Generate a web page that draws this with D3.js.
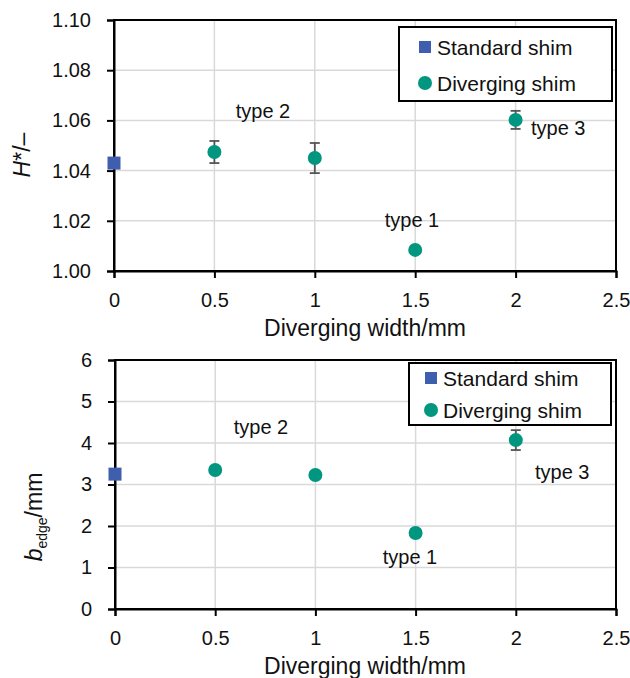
<!DOCTYPE html>
<html>
<head>
<meta charset="utf-8">
<script src="https://cdn.jsdelivr.net/npm/d3@7"></script>
<style>
  body { margin: 0; background: #fff; }
  text { font-family: "Liberation Sans", Arial, sans-serif; fill: #111; }
</style>
</head>
<body>
<div id="chart"></div>
<script>
var svgWidth = 630, svgHeight = 678;

// data
var widths = [0.5, 1, 1.5, 2];
var hStd = 1.043;
var hDiv = [1.0474, 1.045, 1.0084, 1.0602];
var hErr = [0.0044, 0.006, 0.001, 0.0036];
var bStd = 3.25;
var bDiv = [3.35, 3.23, 1.83, 4.07];
var bErr = [0.05, 0.05, 0.1, 0.24];
var xTicks = [0, 0.5, 1, 1.5, 2, 2.5];
var hTicks = [1.00, 1.02, 1.04, 1.06, 1.08, 1.10];
var bTicks = [0, 1, 2, 3, 4, 5, 6];
var typeLabels = ["type 2", "type 1", "type 3"];

var blue = "#3f5eae", teal = "#00967f", grid = "#d9d9d9";

var svg = d3.select("#chart").append("svg")
  .attr("width", svgWidth)
  .attr("height", svgHeight);

function panel(opt){
  var x = d3.scaleLinear().domain([0, 2.5]).range([opt.left, 616]);
  var y = d3.scaleLinear().domain(opt.ydom).range([opt.bottom, opt.top]);
  var g = svg.append("g");

  // grid
  g.append("g").selectAll("line").data(xTicks.slice(1, -1)).enter().append("line")
    .attr("x1", d => x(d)).attr("x2", d => x(d))
    .attr("y1", opt.top).attr("y2", opt.bottom)
    .attr("stroke", grid).attr("stroke-width", 1.5);
  g.append("g").selectAll("line").data(opt.yticks.slice(1, -1)).enter().append("line")
    .attr("y1", d => y(d)).attr("y2", d => y(d))
    .attr("x1", opt.left).attr("x2", 616)
    .attr("stroke", grid).attr("stroke-width", 1.5);

  // frame
  g.append("rect")
    .attr("x", opt.left).attr("y", opt.top)
    .attr("width", 616 - opt.left).attr("height", opt.bottom - opt.top)
    .attr("fill", "none").attr("stroke", "#000").attr("stroke-width", 2);

  var xAxis = g.append("g")
    .attr("transform", "translate(0," + opt.bottom + ")")
    .call(d3.axisBottom(x).tickValues(xTicks).tickFormat(d3.format("")).tickSize(7).tickPadding(15));
  var yAxis = g.append("g")
    .attr("transform", "translate(" + opt.left + ",0)")
    .call(d3.axisLeft(y).tickValues(opt.yticks).tickFormat(opt.yfmt).tickSize(7).tickPadding(16));
  [xAxis, yAxis].forEach(function(a){
    a.select(".domain").attr("stroke", "#000").attr("stroke-width", 2);
    a.selectAll(".tick line").attr("stroke", "#000").attr("stroke-width", 2);
    a.selectAll(".tick text").style("font-size", "20px").attr("fill", "#111");
  });

  // x title
  g.append("text")
    .attr("x", 365).attr("y", opt.bottom + 65)
    .attr("text-anchor", "middle")
    .style("font-size", "23px")
    .text("Diverging width/mm");

  // error bars
  var eb = g.append("g").selectAll("g").data(widths).enter().append("g")
    .attr("stroke", "#555").attr("stroke-width", 1.8);
  eb.append("line")
    .attr("x1", d => x(d)).attr("x2", d => x(d))
    .attr("y1", (d, i) => y(opt.div[i] - opt.err[i]))
    .attr("y2", (d, i) => y(opt.div[i] + opt.err[i]));
  eb.append("line")
    .attr("x1", d => x(d) - 5).attr("x2", d => x(d) + 5)
    .attr("y1", (d, i) => y(opt.div[i] - opt.err[i]))
    .attr("y2", (d, i) => y(opt.div[i] - opt.err[i]));
  eb.append("line")
    .attr("x1", d => x(d) - 5).attr("x2", d => x(d) + 5)
    .attr("y1", (d, i) => y(opt.div[i] + opt.err[i]))
    .attr("y2", (d, i) => y(opt.div[i] + opt.err[i]));

  // points
  g.append("rect")
    .attr("x", x(0) - 6.5).attr("y", y(opt.std) - 6.5)
    .attr("width", 13).attr("height", 13)
    .attr("fill", blue);
  g.append("g").selectAll("circle").data(widths).enter().append("circle")
    .attr("cx", d => x(d))
    .attr("cy", (d, i) => y(opt.div[i]))
    .attr("r", 7)
    .attr("fill", teal);

  // type labels
  g.append("g").selectAll("text").data(typeLabels).enter().append("text")
    .attr("x", (d, i) => opt.labelPos[i][0])
    .attr("y", (d, i) => opt.labelPos[i][1])
    .attr("text-anchor", (d, i) => i == 2 ? "start" : "middle")
    .style("font-size", "20px")
    .text(d => d);

  // legend
  var L = opt.legend;
  g.append("rect")
    .attr("x", L.x).attr("y", L.y).attr("width", L.w).attr("height", L.h)
    .attr("fill", "#fff").attr("stroke", "#000").attr("stroke-width", 2);
  g.append("rect")
    .attr("x", L.mx - 6).attr("y", L.y1 - 6).attr("width", 12).attr("height", 12)
    .attr("fill", blue);
  g.append("circle")
    .attr("cx", L.mx).attr("cy", L.y2).attr("r", 7).attr("fill", teal);
  g.append("text").attr("x", L.tx).attr("y", L.y1 + 7.5).style("font-size", "21px").text("Standard shim");
  g.append("text").attr("x", L.tx).attr("y", L.y2 + 7.5).style("font-size", "21px").text("Diverging shim");

  return g;
}

// top: H*
panel({
  left: 114, top: 20, bottom: 271,
  ydom: [1.0, 1.1], yticks: hTicks, yfmt: d3.format(".2f"),
  std: hStd, div: hDiv, err: hErr,
  labelPos: [[263, 118], [412, 227], [531, 135]],
  legend: {x: 399, y: 27, w: 213, h: 74, mx: 425, tx: 437, y1: 47, y2: 83}
});
svg.append("text")
  .attr("transform", "translate(30,155) rotate(-90)")
  .attr("text-anchor", "middle")
  .style("font-size", "23px")
  .html('<tspan font-style="italic">H</tspan>*/–');

// bottom: b_edge
panel({
  left: 115, top: 360, bottom: 609,
  ydom: [0, 6], yticks: bTicks, yfmt: d3.format("d"),
  std: bStd, div: bDiv, err: bErr,
  labelPos: [[261, 434], [410, 564], [535, 479]],
  legend: {x: 409, y: 363, w: 202, h: 62, mx: 431, tx: 443, y1: 378, y2: 410}
});
svg.append("text")
  .attr("transform", "translate(42,517) rotate(-90)")
  .attr("text-anchor", "middle")
  .style("font-size", "23px")
  .html('<tspan font-style="italic">b</tspan><tspan dy="5" font-size="14px">edge</tspan><tspan dy="-5">/mm</tspan>');
</script>
</body>
</html>
